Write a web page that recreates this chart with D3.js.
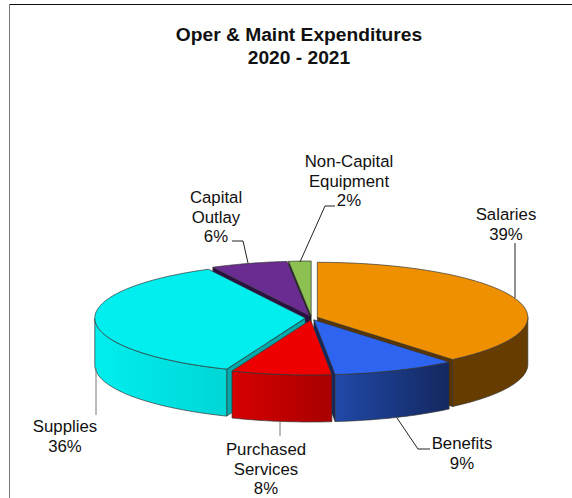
<!DOCTYPE html>
<html>
<head>
<meta charset="utf-8">
<script src="https://cdn.jsdelivr.net/npm/d3@7"></script>
<style>
  html, body { margin: 0; padding: 0; background: #fff; overflow: hidden; }
  text { font-family: "Liberation Sans", Arial, sans-serif; fill: #111; }
</style>
</head>
<body>
<div id="chart"></div>
<script>
// chart data
var categories = ["Salaries", "Benefits", "Purchased Services", "Supplies", "Capital Outlay", "Non-Capital Equipment"];
var shares = [38.9, 9.49, 7.7, 36.3, 5.9, 1.71];
var titleLines = ["Oper & Maint Expenditures", "2020 - 2021"];
var labelLines = [["Salaries"], ["Benefits"], ["Purchased", "Services"], ["Supplies"], ["Capital", "Outlay"], ["Non-Capital", "Equipment"]];

// colours per slice
var topColors = ["#ee9000", "#2e65f0", "#ee0000", "#00eeee", "#6a2c91", "#8cc152"];
var wallLeft = ["#663c00", "#2049a8", "#d60000", "#00eeee", "#4a1f66", "#5f8a36"];
var wallRight = ["#663c00", "#14285f", "#a80000", "#00d6d6", "#4a1f66", "#5f8a36"];
var faceColors = ["#5a3500", "#14285f", "#8a0000", "#00aaaa", "#2b1045", "#1c1c1c"];

// label layout: centre x and first line y, then leader polyline
var labelPos = [[506, 220], [462, 449], [266, 455], [65, 432], [216, 203], [349, 167]];
var leaders = [
  [[515, 298], [515, 243]],
  [[397, 418], [418, 449], [430, 449]],
  [[280, 422], [280, 436]],
  [[96, 368], [96, 415]],
  [[248, 263], [243, 241], [232, 241]],
  [[300, 262], [325, 206], [335, 206]]
];
var leaderColors = ["#222", "#222", "#777", "#777", "#222", "#222"];

// SVG size and pie geometry
var svgWidth = 572;
var svgHeight = 498;
var cx = 311.5, cy = 318;
var rx = 210.5, ry = 55, depth = 47;
var explode = 6.2, explodeY = 0.32;

var svg = d3.select("#chart")
  .append("svg")
  .attr("width", svgWidth)
  .attr("height", svgHeight)
  .style("display", "block");

var defs = svg.append("defs");

// frame: only the top and the left edge show in the crop
svg.append("line").attr("x1", 9).attr("x2", svgWidth).attr("y1", 4.5).attr("y2", 4.5)
  .attr("stroke", "#111").attr("stroke-width", 1.2);
svg.append("line").attr("x1", 9.5).attr("x2", 9.5).attr("y1", 4).attr("y2", svgHeight)
  .attr("stroke", "#777").attr("stroke-width", 1);

// title
svg.append("g").selectAll("text")
  .data(titleLines)
  .enter()
  .append("text")
  .attr("x", 299)
  .attr("y", (d, i) => 41 + i * 23)
  .attr("text-anchor", "middle")
  .attr("font-weight", "bold")
  .attr("font-size", "19.2px")
  .text(d => d);

// angles from d3.pie, running clockwise from 12 o'clock
var slices = d3.pie().sort(null).value(d => d)(shares);

// point on the ellipse for an angle, relative to a slice's apex
function rim(apex, a) {
  return [apex[0] + rx * Math.sin(a), apex[1] - ry * Math.cos(a)];
}

function polygon(points) {
  var p = d3.path();
  points.forEach((pt, i) => i ? p.lineTo(pt[0], pt[1]) : p.moveTo(pt[0], pt[1]));
  p.closePath();
  return p.toString();
}

function arcPoints(apex, a0, a1) {
  var n = Math.max(2, Math.ceil((a1 - a0) * 60));
  return d3.range(n + 1).map(i => rim(apex, a0 + (a1 - a0) * i / n));
}

function drop(pt) {
  return [pt[0], pt[1] + depth];
}

// back slices first, front ones paint over them
var order = d3.range(slices.length).sort((a, b) => {
  var ma = (slices[a].startAngle + slices[a].endAngle) / 2;
  var mb = (slices[b].startAngle + slices[b].endAngle) / 2;
  return d3.ascending(-Math.cos(ma), -Math.cos(mb));
});

var pieGroup = svg.append("g");

order.forEach(function(i) {
  var s = slices[i];
  var a0 = s.startAngle, a1 = s.endAngle, mid = (a0 + a1) / 2;
  var apex = [cx + explode * Math.sin(mid), cy - explode * explodeY * Math.cos(mid)];
  var g = pieGroup.append("g");

  // cut faces that look toward the viewer
  if (Math.sin(a0) < -0.001) {
    var e0 = rim(apex, a0);
    g.append("path")
      .attr("d", polygon([apex, e0, drop(e0), drop(apex)]))
      .attr("fill", faceColors[i]).attr("stroke", "#222").attr("stroke-width", 0.6);
  }
  if (Math.sin(a1) > 0.001) {
    var e1 = rim(apex, a1);
    g.append("path")
      .attr("d", polygon([apex, e1, drop(e1), drop(apex)]))
      .attr("fill", faceColors[i]).attr("stroke", "#222").attr("stroke-width", 0.6);
  }

  // outer wall, only the front half of the ellipse
  var w0 = Math.max(a0, Math.PI / 2), w1 = Math.min(a1, Math.PI * 1.5);
  if (w1 > w0) {
    var upper = arcPoints(apex, w0, w1);
    var xs = d3.extent(upper, d => d[0]);
    var gradient = defs.append("linearGradient")
      .attr("id", "wall" + i)
      .attr("gradientUnits", "userSpaceOnUse")
      .attr("x1", xs[0]).attr("x2", xs[1]).attr("y1", 0).attr("y2", 0);
    gradient.append("stop").attr("offset", 0).attr("stop-color", wallLeft[i]);
    gradient.append("stop").attr("offset", 1).attr("stop-color", wallRight[i]);
    g.append("path")
      .attr("d", polygon(upper.concat(upper.map(drop).reverse())))
      .attr("fill", "url(#wall" + i + ")")
      .attr("stroke", "#333").attr("stroke-width", 0.7);
  }

  // top surface
  g.append("path")
    .attr("d", polygon([apex].concat(arcPoints(apex, a0, a1))))
    .attr("fill", topColors[i])
    .attr("stroke", "#333").attr("stroke-width", 0.7)
    .attr("stroke-linejoin", "round");
});

// leader lines
svg.append("g").selectAll("path")
  .data(leaders)
  .enter()
  .append("path")
  .attr("d", d => d3.line()(d))
  .attr("fill", "none")
  .attr("stroke", (d, i) => leaderColors[i])
  .attr("stroke-width", 1);

// labels: category lines plus the rounded share
var total = d3.sum(shares);
var labelGroups = svg.append("g").selectAll("text")
  .data(categories)
  .enter()
  .append("text")
  .attr("text-anchor", "middle")
  .attr("font-size", "16.8px");

labelGroups.each(function(d, i) {
  var lines = labelLines[i].concat([Math.round(shares[i] / total * 100) + "%"]);
  d3.select(this).selectAll("tspan")
    .data(lines)
    .enter()
    .append("tspan")
    .attr("x", labelPos[i][0])
    .attr("y", (t, j) => labelPos[i][1] + j * 19.6)
    .text(t => t);
});
</script>
</body>
</html>
